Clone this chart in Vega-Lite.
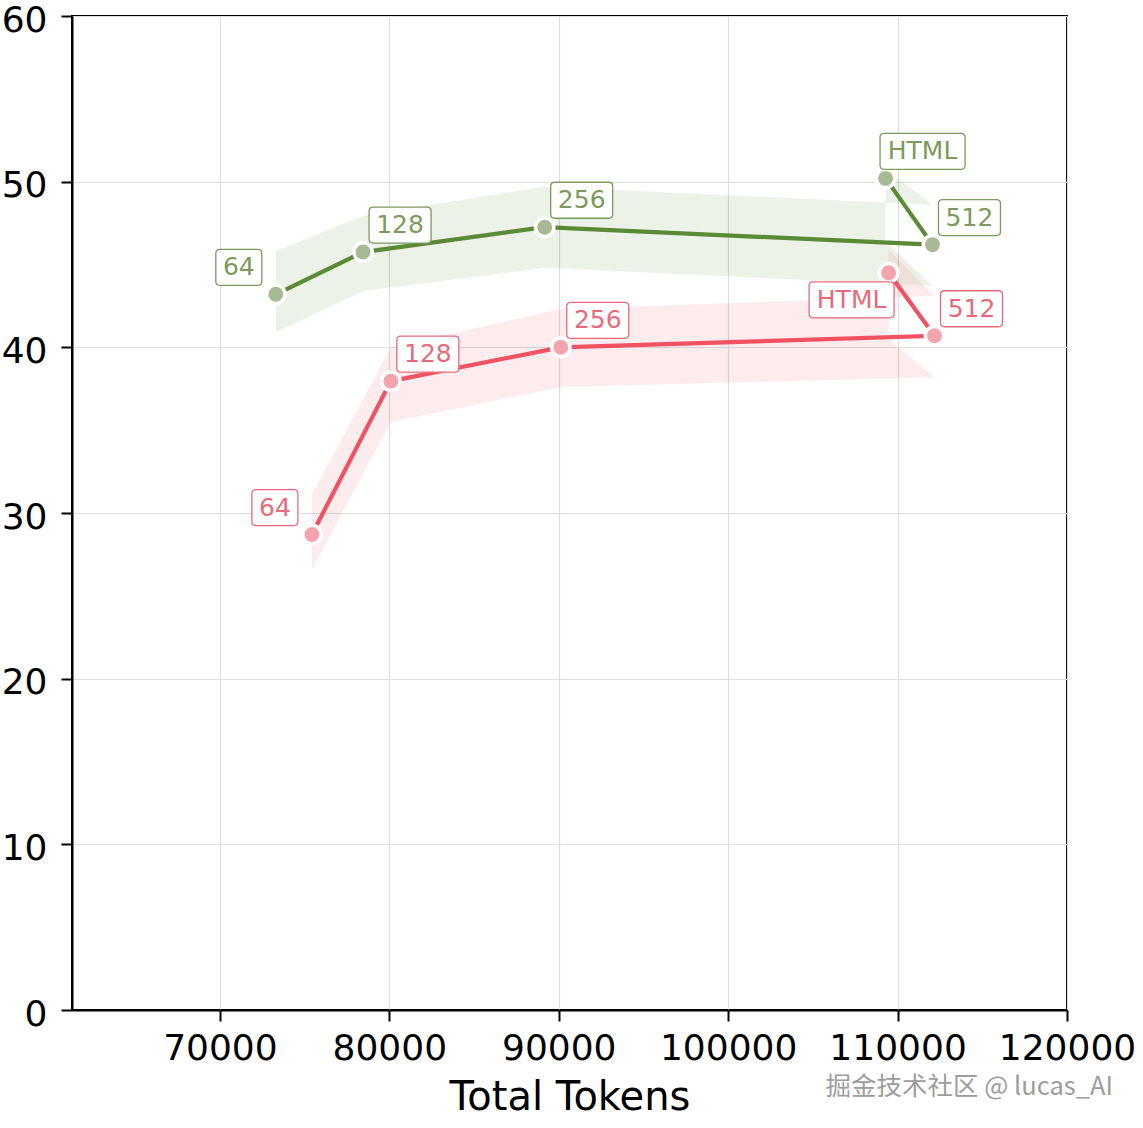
{
  "$schema": "https://vega.github.io/schema/vega-lite/v6.json",
  "width": 995,
  "height": 994,
  "autosize": {"type": "none"},
  "padding": {"left": 72, "top": 16, "right": 76, "bottom": 118},
  "background": "white",
  "config": {
    "view": {"stroke": "black", "strokeWidth": 2},
    "font": "DejaVu Sans",
    "axis": {
      "labelFont": "DejaVu Sans",
      "labelFontSize": 36,
      "labelColor": "black",
      "titleFont": "DejaVu Sans",
      "titleFontSize": 40,
      "titleFontWeight": "normal",
      "titleColor": "black",
      "domainColor": "black",
      "domainWidth": 2,
      "tickColor": "black",
      "tickWidth": 2,
      "tickSize": 11,
      "gridColor": "#dddddd",
      "gridWidth": 1.2
    }
  },
  "title": {
    "text": "掘金技术社区 @ lucas_AI",
    "orient": "bottom",
    "anchor": "end",
    "frame": "group",
    "font": "Noto Sans CJK SC",
    "fontSize": 25.5,
    "fontWeight": "normal",
    "color": "#9c9c9c",
    "dx": 46,
    "dy": -42,
    "offset": 0
  },
  "data": {
    "values": [
      {"series": "A", "label": "64", "tokens": 73300, "score": 43.2, "low": 40.9, "high": 45.8},
      {"series": "A", "label": "128", "tokens": 78450, "score": 45.75, "low": 43.4, "high": 47.95},
      {"series": "A", "label": "256", "tokens": 89170, "score": 47.25, "low": 44.8, "high": 49.7},
      {"series": "A", "label": "512", "tokens": 112060, "score": 46.2, "low": 43.7, "high": 48.6},
      {"series": "A", "label": "HTML", "tokens": 109290, "score": 50.2, "low": 46.4, "high": 50.8},
      {"series": "B", "label": "64", "tokens": 75430, "score": 28.7, "low": 26.6, "high": 31.1},
      {"series": "B", "label": "128", "tokens": 80090, "score": 37.96, "low": 35.5, "high": 40.0},
      {"series": "B", "label": "256", "tokens": 90120, "score": 40.0, "low": 37.6, "high": 42.3},
      {"series": "B", "label": "512", "tokens": 112180, "score": 40.7, "low": 38.2, "high": 43.1},
      {"series": "B", "label": "HTML", "tokens": 109470, "score": 44.5, "low": 40.5, "high": 45.9}
    ]
  },
  "encoding": {
    "x": {
      "field": "tokens",
      "type": "quantitative",
      "scale": {"domain": [61270, 120000], "nice": false, "zero": false},
      "axis": {"values": [70000, 80000, 90000, 100000, 110000, 120000], "title": "Total Tokens", "format": "d", "labelPadding": 10, "titlePadding": 11, "labelFlush": false}
    }
  },
  "layer": [
    {
      "mark": {"type": "area", "fillOpacity": 0.11},
      "encoding": {
        "y": {"field": "low", "type": "quantitative", "scale": {"domain": [0, 60], "nice": false}, "axis": {"values": [0, 10, 20, 30, 40, 50, 60], "title": null, "labelPadding": 14, "labelOffset": 4}},
        "y2": {"field": "high"},
        "color": {"field": "series", "type": "nominal", "scale": {"domain": ["A", "B"], "range": ["#5b8a36", "#ee5263"]}, "legend": null},
        "order": {"value": null}
      }
    },
    {
      "mark": {"type": "line", "strokeWidth": 4.2},
      "encoding": {
        "y": {"field": "score", "type": "quantitative"},
        "color": {"field": "series", "type": "nominal", "scale": {"domain": ["A", "B"], "range": ["#5b8a36", "#ee5263"]}, "legend": null},
        "order": {"value": null}
      }
    },
    {
      "mark": {"type": "circle", "size": 340, "opacity": 1, "stroke": "white", "strokeWidth": 3.5},
      "encoding": {
        "y": {"field": "score", "type": "quantitative"},
        "fill": {"field": "series", "type": "nominal", "scale": {"domain": ["A", "B"], "range": ["#a7ba94", "#f5a3ad"]}, "legend": null}
      }
    },
    {
      "transform": [{"filter": "datum.label != '64' && !(datum.series == 'B' && datum.label == 'HTML')"}],
      "mark": {"type": "point", "size": 4, "opacity": 1, "fill": "white", "fillOpacity": 1, "strokeWidth": 1.3, "xOffset": 37, "yOffset": -27},
      "encoding": {
        "y": {"field": "score", "type": "quantitative"},
        "shape": {"field": "label", "type": "nominal", "scale": {"domain": ["64", "128", "256", "512", "HTML"], "range": ["M-19,-18H19Q23,-18 23,-14V14Q23,18 19,18H-19Q-23,18 -23,14V-14Q-23,-18 -19,-18Z", "M-27,-18H27Q31,-18 31,-14V14Q31,18 27,18H-27Q-31,18 -31,14V-14Q-31,-18 -27,-18Z", "M-27,-18H27Q31,-18 31,-14V14Q31,18 27,18H-27Q-31,18 -31,14V-14Q-31,-18 -27,-18Z", "M-27,-18H27Q31,-18 31,-14V14Q31,18 27,18H-27Q-31,18 -31,14V-14Q-31,-18 -27,-18Z", "M-38.5,-18H38.5Q42.5,-18 42.5,-14V14Q42.5,18 38.5,18H-38.5Q-42.5,18 -42.5,14V-14Q-42.5,-18 -38.5,-18Z"]}, "legend": null},
        "stroke": {"field": "series", "type": "nominal", "scale": {"domain": ["A", "B"], "range": ["#7b9a5c", "#e86a7a"]}, "legend": null}
      }
    },
    {
      "transform": [{"filter": "datum.label == '64'"}],
      "mark": {"type": "point", "size": 4, "opacity": 1, "fill": "white", "fillOpacity": 1, "strokeWidth": 1.3, "xOffset": -37, "yOffset": -27},
      "encoding": {
        "y": {"field": "score", "type": "quantitative"},
        "shape": {"field": "label", "type": "nominal", "scale": {"domain": ["64", "128", "256", "512", "HTML"], "range": ["M-19,-18H19Q23,-18 23,-14V14Q23,18 19,18H-19Q-23,18 -23,14V-14Q-23,-18 -19,-18Z", "M-27,-18H27Q31,-18 31,-14V14Q31,18 27,18H-27Q-31,18 -31,14V-14Q-31,-18 -27,-18Z", "M-27,-18H27Q31,-18 31,-14V14Q31,18 27,18H-27Q-31,18 -31,14V-14Q-31,-18 -27,-18Z", "M-27,-18H27Q31,-18 31,-14V14Q31,18 27,18H-27Q-31,18 -31,14V-14Q-31,-18 -27,-18Z", "M-38.5,-18H38.5Q42.5,-18 42.5,-14V14Q42.5,18 38.5,18H-38.5Q-42.5,18 -42.5,14V-14Q-42.5,-18 -38.5,-18Z"]}, "legend": null},
        "stroke": {"field": "series", "type": "nominal", "scale": {"domain": ["A", "B"], "range": ["#7b9a5c", "#e86a7a"]}, "legend": null}
      }
    },
    {
      "transform": [{"filter": "datum.series == 'B' && datum.label == 'HTML'"}],
      "mark": {"type": "point", "size": 4, "opacity": 1, "fill": "white", "fillOpacity": 1, "strokeWidth": 1.3, "xOffset": -37, "yOffset": 27},
      "encoding": {
        "y": {"field": "score", "type": "quantitative"},
        "shape": {"field": "label", "type": "nominal", "scale": {"domain": ["64", "128", "256", "512", "HTML"], "range": ["M-19,-18H19Q23,-18 23,-14V14Q23,18 19,18H-19Q-23,18 -23,14V-14Q-23,-18 -19,-18Z", "M-27,-18H27Q31,-18 31,-14V14Q31,18 27,18H-27Q-31,18 -31,14V-14Q-31,-18 -27,-18Z", "M-27,-18H27Q31,-18 31,-14V14Q31,18 27,18H-27Q-31,18 -31,14V-14Q-31,-18 -27,-18Z", "M-27,-18H27Q31,-18 31,-14V14Q31,18 27,18H-27Q-31,18 -31,14V-14Q-31,-18 -27,-18Z", "M-38.5,-18H38.5Q42.5,-18 42.5,-14V14Q42.5,18 38.5,18H-38.5Q-42.5,18 -42.5,14V-14Q-42.5,-18 -38.5,-18Z"]}, "legend": null},
        "stroke": {"field": "series", "type": "nominal", "scale": {"domain": ["A", "B"], "range": ["#7b9a5c", "#e86a7a"]}, "legend": null}
      }
    },
    {
      "transform": [{"filter": "datum.label != '64' && !(datum.series == 'B' && datum.label == 'HTML')"}],
      "mark": {"type": "text", "font": "DejaVu Sans", "fontSize": 25, "align": "center", "baseline": "middle", "dx": 37, "dy": -27},
      "encoding": {
        "y": {"field": "score", "type": "quantitative"},
        "text": {"field": "label"},
        "color": {"field": "series", "type": "nominal", "scale": {"domain": ["A", "B"], "range": ["#7b9a5c", "#e86a7a"]}, "legend": null}
      }
    },
    {
      "transform": [{"filter": "datum.label == '64'"}],
      "mark": {"type": "text", "font": "DejaVu Sans", "fontSize": 25, "align": "center", "baseline": "middle", "dx": -37, "dy": -27},
      "encoding": {
        "y": {"field": "score", "type": "quantitative"},
        "text": {"field": "label"},
        "color": {"field": "series", "type": "nominal", "scale": {"domain": ["A", "B"], "range": ["#7b9a5c", "#e86a7a"]}, "legend": null}
      }
    },
    {
      "transform": [{"filter": "datum.series == 'B' && datum.label == 'HTML'"}],
      "mark": {"type": "text", "font": "DejaVu Sans", "fontSize": 25, "align": "center", "baseline": "middle", "dx": -37, "dy": 27},
      "encoding": {
        "y": {"field": "score", "type": "quantitative"},
        "text": {"field": "label"},
        "color": {"field": "series", "type": "nominal", "scale": {"domain": ["A", "B"], "range": ["#7b9a5c", "#e86a7a"]}, "legend": null}
      }
    }
  ],
  "resolve": {"scale": {"color": "independent"}}
}
